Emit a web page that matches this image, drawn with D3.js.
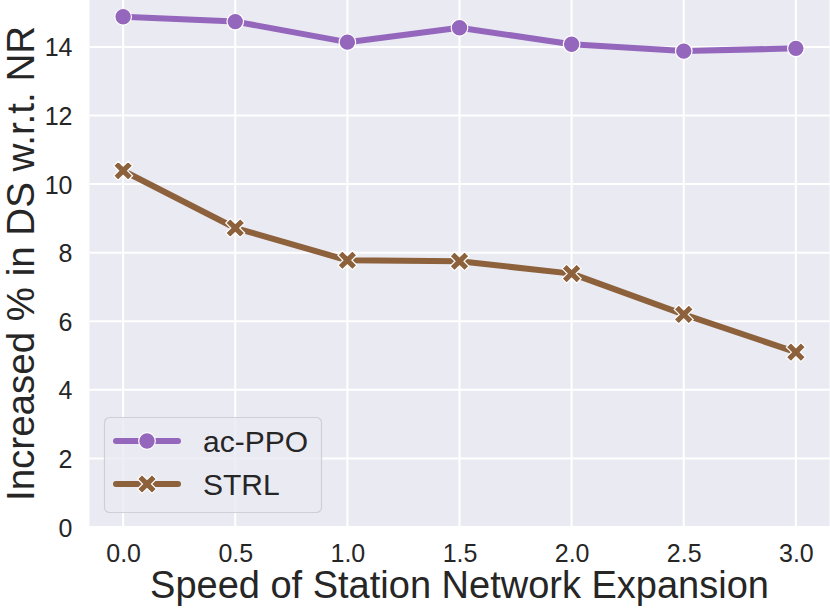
<!DOCTYPE html>
<html>
<head>
<meta charset="utf-8">
<script src="https://cdn.jsdelivr.net/npm/d3@7"></script>
<style>
  body { margin: 0; background: #fff; }
  text { font-family: "Liberation Sans", Arial, sans-serif; fill: #262626; }
</style>
</head>
<body>
<svg id="chart" width="830" height="611"></svg>
<script>
// values
var speeds = [0.0, 0.5, 1.0, 1.5, 2.0, 2.5, 3.0];
var acPPO = [14.88, 14.74, 14.14, 14.56, 14.08, 13.88, 13.96];
var strl = [10.39, 8.72, 7.78, 7.75, 7.39, 6.20, 5.10];
var xTicks = [0.0, 0.5, 1.0, 1.5, 2.0, 2.5, 3.0];
var yTicks = [0, 2, 4, 6, 8, 10, 12, 14];

var series = [
  { key: 'ac-PPO', values: acPPO, color: '#9467bd', marker: 'circle' },
  { key: 'STRL', values: strl, color: '#8c613c', marker: 'x' }
];

var svg = d3.select('#chart');
var margin = { left: 89.5, right: 0.5, top: 0, bottom: 84 };
var W = 830, H = 611;

var x = d3.scaleLinear().domain([-0.15, 3.15]).range([margin.left, W - margin.right]);
var y = d3.scaleLinear().domain([0, 15.37]).range([H - margin.bottom, margin.top]);

// background
svg.append('rect')
  .attr('x', x.range()[0]).attr('y', y.range()[1])
  .attr('width', x.range()[1] - x.range()[0])
  .attr('height', y.range()[0] - y.range()[1])
  .attr('fill', '#eaeaf2');

// grid
svg.append('g').selectAll('line').data(xTicks).enter().append('line')
  .attr('x1', function(d) { return x(d); }).attr('x2', function(d) { return x(d); })
  .attr('y1', y.range()[0]).attr('y2', y.range()[1])
  .attr('stroke', '#fff').attr('stroke-width', 2);
svg.append('g').selectAll('line').data(yTicks).enter().append('line')
  .attr('x1', x.range()[0]).attr('x2', x.range()[1])
  .attr('y1', function(d) { return y(d); }).attr('y2', function(d) { return y(d); })
  .attr('stroke', '#fff').attr('stroke-width', 2);

// axes (labels only, no domain / tick lines, like seaborn darkgrid)
var xAxis = svg.append('g')
  .attr('transform', 'translate(0,' + y.range()[0] + ')')
  .call(d3.axisBottom(x).tickValues(xTicks).tickFormat(d3.format('.1f')).tickSize(0).tickPadding(17));
var yAxis = svg.append('g')
  .attr('transform', 'translate(' + x.range()[0] + ',0)')
  .call(d3.axisLeft(y).tickValues(yTicks).tickFormat(d3.format('d')).tickSize(0).tickPadding(17));
[xAxis, yAxis].forEach(function(a) {
  a.select('.domain').remove();
  a.selectAll('text').style('font-size', '25px').attr('fill', '#262626')
    .style('font-family', '"Liberation Sans", Arial, sans-serif');
});
yAxis.selectAll('text').attr('dy', '0.36em');

// axis titles
svg.append('text')
  .attr('x', (x.range()[0] + x.range()[1]) / 2).attr('y', 598)
  .attr('text-anchor', 'middle').style('font-size', '38px')
  .text('Speed of Station Network Expansion');
svg.append('text')
  .attr('transform', 'translate(34,' + (y.range()[0] + y.range()[1]) / 2 + ') rotate(-90)')
  .attr('text-anchor', 'middle').style('font-size', '38.5px')
  .text('Increased % in DS w.r.t. NR');

var line = d3.line()
  .x(function(d, i) { return x(speeds[i]); })
  .y(function(d) { return y(d); });

function drawMarker(g, type, cx, cy, color, s) {
  if (type === 'circle') {
    g.append('circle').attr('cx', cx).attr('cy', cy).attr('r', s)
      .attr('fill', color).attr('stroke', '#fff').attr('stroke-width', 1.2);
  } else {
    // filled "X" shaped like matplotlib's 'X' marker
    var k = s * 0.95, t = s * 0.45;
    var pts = [[-k + t, -k], [0, -t], [k - t, -k], [k, -k + t], [t, 0], [k, k - t],
               [k - t, k], [0, t], [-k + t, k], [-k, k - t], [-t, 0], [-k, -k + t]];
    g.append('path')
      .attr('d', 'M' + pts.map(function(p) { return (cx + p[0]) + ',' + (cy + p[1]); }).join('L') + 'Z')
      .attr('fill', color).attr('stroke', '#fff').attr('stroke-width', 1.2)
      .attr('stroke-linejoin', 'miter');
  }
}

series.forEach(function(s) {
  svg.append('path').datum(s.values)
    .attr('d', line).attr('fill', 'none')
    .attr('stroke', s.color).attr('stroke-width', 6)
    .attr('stroke-linejoin', 'round').attr('stroke-linecap', 'round');
  var g = svg.append('g');
  s.values.forEach(function(v, i) {
    drawMarker(g, s.marker, x(speeds[i]), y(v), s.color, s.marker === 'circle' ? 8.3 : 10);
  });
});

// legend
var lg = svg.append('g');
lg.append('rect')
  .attr('x', 104.5).attr('y', 417.5).attr('width', 217).attr('height', 95)
  .attr('rx', 5).attr('ry', 5)
  .attr('fill', '#eaeaf2').attr('fill-opacity', 0.8)
  .attr('stroke', '#cfcfd6').attr('stroke-width', 1.2);
series.forEach(function(s, i) {
  var ly = 441 + i * 43;
  lg.append('line').attr('x1', 116).attr('x2', 178).attr('y1', ly).attr('y2', ly)
    .attr('stroke', s.color).attr('stroke-width', 6).attr('stroke-linecap', 'round');
  drawMarker(lg, s.marker, 147, ly, s.color, s.marker === 'circle' ? 8.3 : 10);
  lg.append('text').attr('x', 203).attr('y', ly).attr('dy', '0.36em')
    .style('font-size', '30px').text(s.key);
});
</script>
</body>
</html>
